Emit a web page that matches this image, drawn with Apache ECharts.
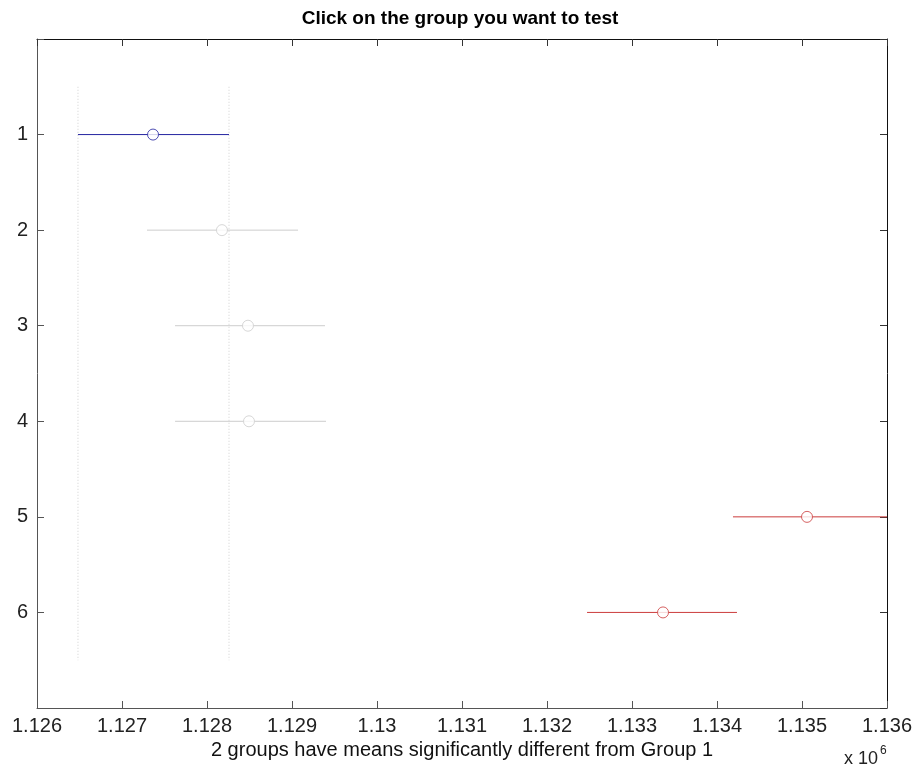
<!DOCTYPE html>
<html>
<head>
<meta charset="utf-8">
<script src="https://cdn.jsdelivr.net/npm/echarts@6/dist/echarts.min.js"></script>
<style>
  html, body { margin: 0; padding: 0; background: #fff; }
  #chart { width: 920px; height: 772px; }
</style>
</head>
<body>
<div id="chart"></div>
<script>
// groups and their comparison intervals (values in raw units, axis shows x 10^6)
const groups = [1, 2, 3, 4, 5, 6];
const means = [1127365, 1128176, 1128482, 1128494, 1135059, 1133365];
const lower = [1126482, 1127294, 1127624, 1127624, 1134188, 1132471];
const upper = [1128259, 1129071, 1129388, 1129400, 1136000, 1134235];
const status = ['test', 'same', 'same', 'same', 'diff', 'diff'];
const xTicks = [1126000, 1127000, 1128000, 1129000, 1130000, 1131000, 1132000, 1133000, 1134000, 1135000, 1136000];

const colors = { test: '#2424a0', same: '#cdcdcd', diff: '#cc3c3c' };
const font = 'Liberation Sans, Arial, sans-serif';

const series = [];

// dotted guide lines at the bounds of the tested group
[lower[0], upper[0]].forEach(v => {
  series.push({
    type: 'line',
    data: [[v, 0.5], [v, 6.5]],
    symbol: 'none',
    silent: true,
    lineStyle: { color: '#d0d0d0', width: 1, type: [1, 2] },
    z: 1
  });
});

groups.forEach((g, i) => {
  const c = colors[status[i]];
  series.push({
    type: 'line',
    data: [[lower[i], g], [upper[i], g]],
    symbol: 'none',
    lineStyle: { color: c, width: 1 },
    z: 2
  });
  series.push({
    type: 'scatter',
    data: [[means[i], g]],
    symbol: 'circle',
    symbolSize: 11,
    itemStyle: { color: '#fff', borderColor: c, borderWidth: 1 },
    z: 3
  });
});

const chart = echarts.init(document.getElementById('chart'));
chart.setOption({
  animation: false,
  backgroundColor: '#fff',
  title: {
    text: 'Click on the group you want to test',
    left: 'center',
    top: 4,
    textStyle: { fontFamily: font, fontSize: 19, fontWeight: 'bold', color: '#000' }
  },
  grid: { left: 37, right: 33, top: 39, bottom: 64 },
  xAxis: [{
    type: 'value',
    min: xTicks[0],
    max: xTicks[xTicks.length - 1],
    interval: 1000,
    name: '2 groups have means significantly different from Group 1',
    nameLocation: 'middle',
    nameGap: 20,
    nameTextStyle: { fontFamily: font, fontSize: 20, color: '#111' },
    axisLine: { onZero: false, lineStyle: { color: '#555', width: 1 } },
    axisTick: { inside: true, length: 7, lineStyle: { color: '#555' } },
    axisLabel: {
      fontFamily: font, fontSize: 20, color: '#222', margin: 8,
      formatter: v => String(+(v / 1e6).toFixed(4))
    },
    splitLine: { show: false }
  }, {
    type: 'value',
    position: 'top',
    min: xTicks[0],
    max: xTicks[xTicks.length - 1],
    interval: 1000,
    axisLine: { show: true, onZero: false, lineStyle: { color: '#111', width: 1 } },
    axisTick: { show: true, inside: true, length: 7, lineStyle: { color: '#333' } },
    axisLabel: { show: false },
    splitLine: { show: false }
  }],
  yAxis: [{
    type: 'value',
    inverse: true,
    min: 0,
    max: 7,
    interval: 1,
    axisLine: { show: true, onZero: false, lineStyle: { color: '#555', width: 1 } },
    axisTick: { show: true, inside: true, length: 7, lineStyle: { color: '#555' } },
    axisLabel: {
      fontFamily: font, fontSize: 20, color: '#222', margin: 9,
      formatter: v => (v >= 1 && v <= 6 ? String(v) : '')
    },
    splitLine: { show: false }
  }, {
    type: 'value',
    position: 'right',
    inverse: true,
    min: 0,
    max: 7,
    interval: 1,
    axisLine: { show: true, onZero: false, lineStyle: { color: '#111', width: 1 } },
    axisTick: { show: true, inside: true, length: 7, lineStyle: { color: '#333' } },
    axisLabel: { show: false },
    splitLine: { show: false }
  }],
  graphic: [{
    type: 'text',
    style: {
      x: 844, y: 759, text: 'x 10', verticalAlign: 'middle',
      font: '18px ' + font, fill: '#222'
    }
  }, {
    type: 'text',
    style: {
      x: 880, y: 751, text: '6', verticalAlign: 'middle',
      font: '12px ' + font, fill: '#222'
    }
  }],
  series: series
});
</script>
</body>
</html>
